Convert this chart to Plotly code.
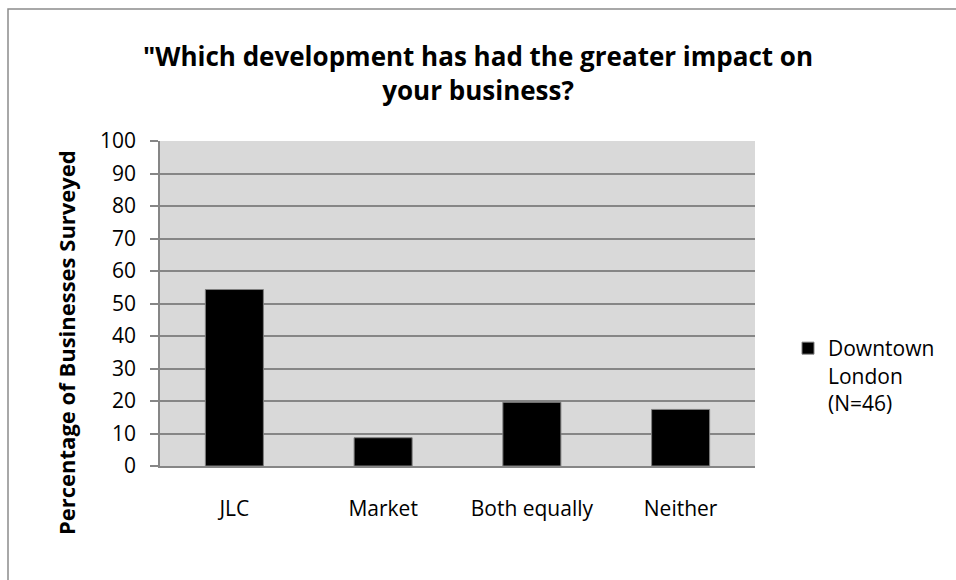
import plotly.graph_objects as go

# Survey responses (percentage of businesses, N=46)
categories = ["JLC", "Market", "Both equally", "Neither"]
percentages = [54.3, 8.7, 19.6, 17.4]
series_name = "Downtown<br>London<br>(N=46)"
y_ticks = [0, 10, 20, 30, 40, 50, 60, 70, 80, 90, 100]

W, H = 956, 580
L, R, T, B = 160, 201, 141, 114
pw, ph = W - L - R, H - T - B


def px_x(x):
    return (x - L) / pw


def px_y(y):
    return (H - B - y) / ph


FONT = "Open Sans"
GRID = "#868686"

fig = go.Figure()
fig.add_trace(go.Bar(
    x=categories,
    y=percentages,
    name=series_name,
    marker=dict(color="#000000", line=dict(color="#7f7f7f", width=1)),
    showlegend=True,
))

fig.update_layout(
    width=W,
    height=H,
    margin=dict(l=L, r=R, t=T, b=B),
    paper_bgcolor="#ffffff",
    plot_bgcolor="#d9d9d9",
    bargap=0.61,
    font=dict(family=FONT, size=21, color="#000000"),
    showlegend=True,
    legend=dict(
        x=px_x(788), y=px_y(328), xanchor="left", yanchor="top",
        valign="top", bgcolor="rgba(0,0,0,0)",
        font=dict(family=FONT, size=21, color="#000000"),
        itemclick=False,
    ),
    xaxis=dict(
        showgrid=False,
        showline=True, linecolor=GRID, linewidth=1.5,
        ticks="outside", ticklen=10, tickcolor="rgba(0,0,0,0)",
        ticklabelstandoff=13,
        tickfont=dict(family=FONT, size=21, color="#000000"),
    ),
    yaxis=dict(
        range=[0, 100],
        tickvals=y_ticks,
        showgrid=True, gridcolor=GRID, gridwidth=1.5,
        showline=True, linecolor=GRID, linewidth=1.5,
        ticks="outside", ticklen=8, tickcolor=GRID, tickwidth=1.5,
        ticklabelstandoff=10,
        zeroline=False,
        tickfont=dict(family=FONT, size=21, color="#000000"),
    ),
)

# Chart title
fig.add_annotation(
    text="\"Which development has had the greater impact on<br>your business?",
    xref="paper", yref="paper",
    x=px_x(478), y=px_y(73),
    xanchor="center", yanchor="middle",
    showarrow=False,
    font=dict(family=FONT, size=26, color="#000000", weight="bold"),
)

# Y-axis title
fig.add_annotation(
    text="Percentage of Businesses Surveyed",
    xref="paper", yref="paper",
    x=px_x(66), y=px_y(343),
    xanchor="center", yanchor="middle",
    textangle=-90,
    showarrow=False,
    font=dict(family=FONT, size=22, color="#000000", weight="bold"),
)

# Chart frame (right and bottom edges fall outside the canvas)
fig.add_shape(
    type="rect", xref="paper", yref="paper",
    x0=px_x(8), x1=px_x(1010), y0=px_y(620), y1=px_y(9),
    line=dict(color="#8c8c8c", width=1.5), fillcolor="rgba(0,0,0,0)",
    layer="below",
)

fig.write_html("out.html")
